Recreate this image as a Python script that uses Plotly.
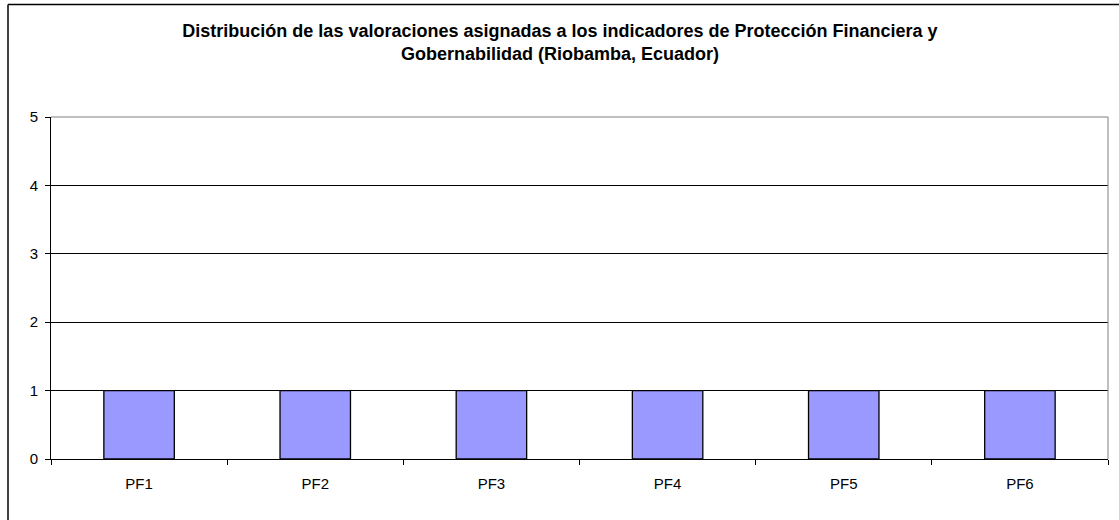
import plotly.graph_objects as go

categories = ["PF1", "PF2", "PF3", "PF4", "PF5", "PF6"]
values = [1, 1, 1, 1, 1, 1]
y_ticks = [0, 1, 2, 3, 4, 5]

W, H = 1119, 520
L, R, T, B = 51, 11, 117, 61
pw = W - L - R
ph = H - T - B

fig = go.Figure()
fig.add_trace(go.Bar(
    x=categories, y=values,
    marker=dict(color="#9999FF", line=dict(color="black", width=1.3)),
))

title_text = ("Distribución de las valoraciones asignadas a los indicadores de Protección Financiera y"
              "<br>Gobernabilidad (Riobamba, Ecuador)")

fig.update_layout(
    width=W, height=H,
    margin=dict(l=L, r=R, t=T, b=B),
    paper_bgcolor="white", plot_bgcolor="white",
    bargap=0.6,
    showlegend=False,
    font=dict(family="Liberation Sans, Arial, sans-serif", color="black"),
    title=dict(text="<b>" + title_text + "</b>", x=(560 / W), xref="container", xanchor="center",
               y=1 - 37 / H, yref="container", yanchor="top",
               font=dict(size=18, family="Liberation Sans, Arial, sans-serif", color="black")),
    xaxis=dict(
        type="category", showgrid=False, showline=True, linecolor="black", linewidth=1,
        ticks="outside", tickson="boundaries", ticklen=5, tickcolor="black",
        tickfont=dict(size=15), ticklabelstandoff=11, range=[-0.5, 5.5],
    ),
    yaxis=dict(
        range=[0, 5], tickvals=y_ticks, showgrid=True, gridcolor="black", gridwidth=1,
        showline=True, linecolor="black", linewidth=1, ticks="outside", ticklen=5,
        tickcolor="black", tickfont=dict(size=15), ticklabelstandoff=4, zeroline=False,
    ),
)

# plot-area border (gray) top and right
fig.add_shape(type="line", xref="paper", yref="paper", x0=0, x1=1, y0=1, y1=1,
              line=dict(color="#808080", width=1))
fig.add_shape(type="line", xref="paper", yref="paper", x0=1, x1=1, y0=0, y1=1,
              line=dict(color="#808080", width=1))

# outer chart border (left and top edges visible)
bx0 = (8 - L) / pw
by1 = 1 + (T - 4.5) / ph
bx1 = (W + 5 - L) / pw
by0 = -(B + 5) / ph
fig.add_shape(type="line", xref="paper", yref="paper", x0=bx0, x1=bx1, y0=by1, y1=by1,
              line=dict(color="black", width=1.5), layer="above")
fig.add_shape(type="line", xref="paper", yref="paper", x0=bx0, x1=bx0, y0=by0, y1=by1,
              line=dict(color="black", width=1.5), layer="above")

fig.write_html("out.html", config={"displayModeBar": False},
               post_script="document.body.style.margin='0';")
